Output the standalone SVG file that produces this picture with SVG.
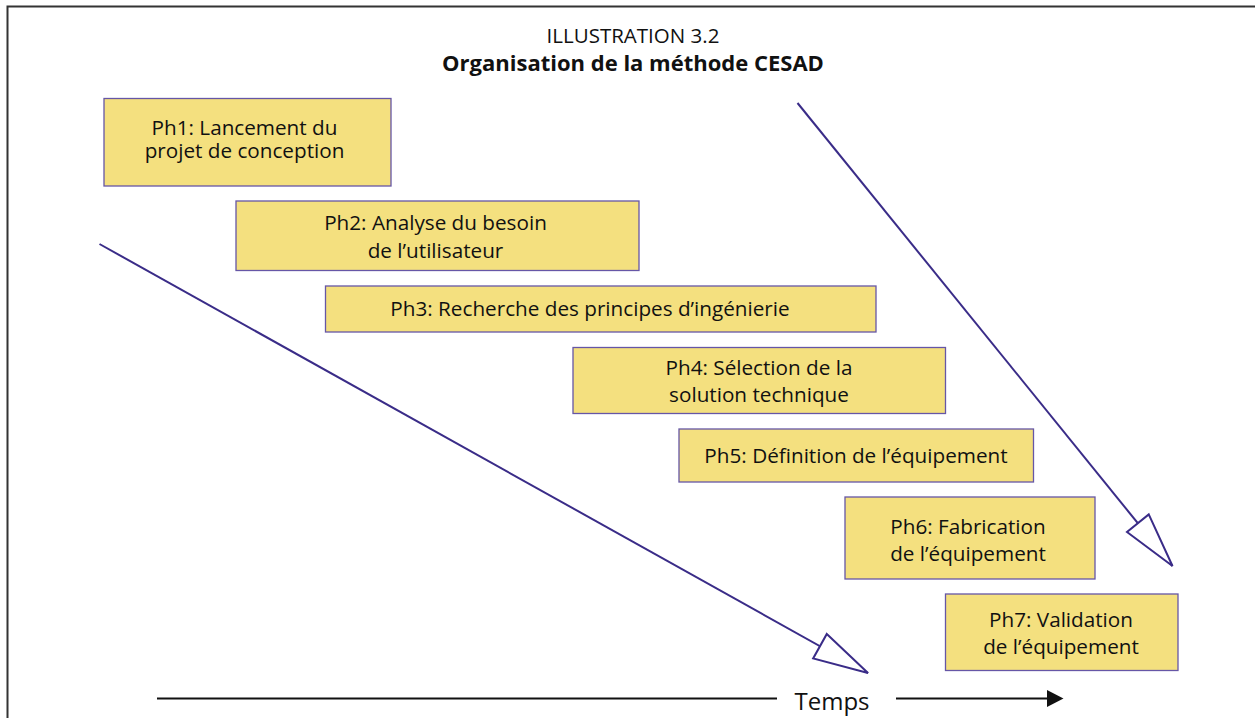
<svg xmlns="http://www.w3.org/2000/svg" width="1255" height="718" viewBox="0 0 1255 718">
  <style>
    .frame { fill: none; stroke: #333333; stroke-width: 2; }
    .phase rect { fill: #f4e07f; stroke: #6656a6; stroke-width: 1.3; }
    .phase text { font-family: "Open Sans", "Liberation Sans", sans-serif; font-size: 20.7px; fill: #111111; text-anchor: middle; }
    .title { font-family: "Open Sans", "Liberation Sans", sans-serif; fill: #111111; text-anchor: middle; }
    .flow { fill: none; stroke: #3a2c88; stroke-width: 2; }
    .axis { fill: none; stroke: #111111; stroke-width: 2.2; }
  </style>
  <defs>
    <marker id="openHead" markerUnits="userSpaceOnUse" viewBox="-2 -17 60 34" markerWidth="60" markerHeight="34" refX="55" refY="0" orient="auto">
      <path d="M0,-14 L55,0 L0,14 Z" fill="#ffffff" stroke="#3a2c88" stroke-width="2" stroke-linejoin="miter"/>
    </marker>
  </defs>

  <rect width="1255" height="718" fill="#ffffff"/>
  <!-- page frame: only top and left edges are inside the canvas -->
  <path class="frame" d="M7.5,718 V6.5 H1255"/>

  <g id="title">
    <text class="title" x="633" y="42.5" font-size="20.5">ILLUSTRATION 3.2</text>
    <text class="title" x="633" y="71" font-size="22" font-weight="bold">Organisation de la méthode CESAD</text>
  </g>

  <g id="ph1" class="phase">
    <rect x="104" y="98.5" width="287" height="87.5"/>
    <text x="244.5" y="135">Ph1: Lancement du</text>
    <text x="244.5" y="157.5">projet de conception</text>
  </g>
  <g id="ph2" class="phase">
    <rect x="236" y="201" width="403" height="69.5"/>
    <text x="435.5" y="230">Ph2: Analyse du besoin</text>
    <text x="435.5" y="257.5">de l’utilisateur</text>
  </g>
  <g id="ph3" class="phase">
    <rect x="325.5" y="286" width="550.5" height="46"/>
    <text x="590" y="316">Ph3: Recherche des principes d’ingénierie</text>
  </g>
  <g id="ph4" class="phase">
    <rect x="573" y="347.5" width="372.5" height="66"/>
    <text x="759" y="375">Ph4: Sélection de la</text>
    <text x="759" y="402">solution technique</text>
  </g>
  <g id="ph5" class="phase">
    <rect x="679" y="429" width="354.5" height="53"/>
    <text x="856" y="462.5">Ph5: Définition de l’équipement</text>
  </g>
  <g id="ph6" class="phase">
    <rect x="845" y="497" width="250" height="82"/>
    <text x="968" y="534">Ph6: Fabrication</text>
    <text x="968" y="561">de l’équipement</text>
  </g>
  <g id="ph7" class="phase">
    <rect x="945.5" y="594" width="232.5" height="76.5"/>
    <text x="1061" y="626.5">Ph7: Validation</text>
    <text x="1061" y="653.5">de l’équipement</text>
  </g>

  <g id="connectors">
    <line class="flow" x1="99.5" y1="244" x2="868" y2="673" marker-end="url(#openHead)"/>
    <line class="flow" x1="797.5" y1="103" x2="1172.5" y2="566" marker-end="url(#openHead)"/>
  </g>

  <g id="time-axis">
    <line class="axis" x1="157" y1="698.5" x2="777" y2="698.5"/>
    <text class="title" x="832" y="709.5" font-size="24">Temps</text>
    <line class="axis" x1="896" y1="698.5" x2="1050" y2="698.5"/>
    <path d="M1047,690 L1063.5,698.5 L1047,707 Z" fill="#111111"/>
  </g>
</svg>
